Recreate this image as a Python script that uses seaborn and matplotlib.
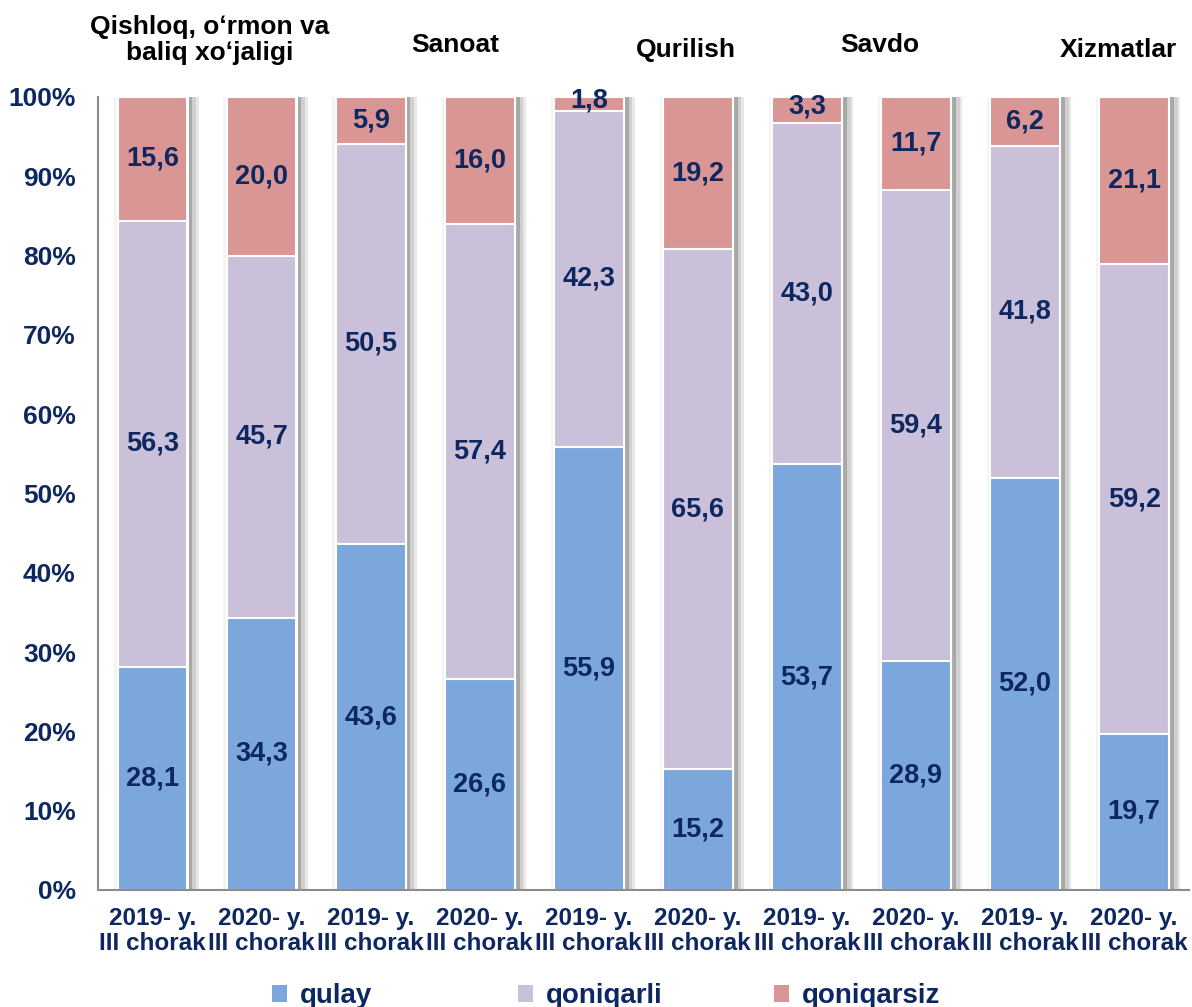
import matplotlib
matplotlib.use("Agg")
import matplotlib.pyplot as plt
import seaborn as sns
import pandas as pd
import numpy as np
from matplotlib.patches import Patch

# ---- data ----
x_labels = ["2019- y.\nIII chorak", "2020- y.\nIII chorak"] * 5
bar_ids = [f"b{i}" for i in range(10)]
groups = ["Qishloq, oʻrmon va\nbaliq xoʻjaligi", "Sanoat", "Qurilish", "Savdo", "Xizmatlar"]
qulay = [28.1, 34.3, 43.6, 26.6, 55.9, 15.2, 53.7, 28.9, 52.0, 19.7]
qoniqarli = [56.3, 45.7, 50.5, 57.4, 42.3, 65.6, 43.0, 59.4, 41.8, 59.2]
qoniqarsiz = [15.6, 20.0, 5.9, 16.0, 1.8, 19.2, 3.3, 11.7, 6.2, 21.1]
series_names = ["qulay", "qoniqarli", "qoniqarsiz"]
colors = ["#7BA7DD", "#CBC0DA", "#D99694"]
navy = "#0D2760"

sns.set_theme(style="white")
plt.rcParams['font.family'] = ['Liberation Sans', 'DejaVu Sans']

df = pd.DataFrame({"bar": bar_ids, "qulay": qulay, "qoniqarli": qoniqarli,
                   "qoniqarsiz": qoniqarsiz})
df["c1"] = df["qulay"]
df["c2"] = df["qulay"] + df["qoniqarli"]
df["c3"] = df["c2"] + df["qoniqarsiz"]

fig = plt.figure(figsize=(11.92, 10.07), dpi=100)
ax = fig.add_axes([0.0822, 0.1162, 0.9150, 0.7875])

width = 0.64
pos = np.arange(10)
# shadow strips to the right of each bar
for off, w, col in [(width/2 + 0.01, 0.035, "#A8A8A8"), (width/2 + 0.045, 0.035, "#D0D0D0"),
                    (width/2 + 0.08, 0.025, "#E8E8E8")]:
    ax.bar(pos + off + w/2, df["c3"], width=w, color=col, linewidth=0, zorder=1)
ax.bar(pos - width/2 - 0.015, df["c3"], width=0.03, color="#F4F4F4", linewidth=0, zorder=1)

for col, c in zip(["c3", "c2", "c1"], [colors[2], colors[1], colors[0]]):
    sns.barplot(data=df, x="bar", y=col, color=c, width=width, ax=ax,
                edgecolor="white", linewidth=1.5, zorder=2, saturation=1)

# data labels
for i in range(10):
    bottoms = [0, qulay[i], qulay[i] + qoniqarli[i]]
    vals = [qulay[i], qoniqarli[i], qoniqarsiz[i]]
    for b, v in zip(bottoms, vals):
        y = b + v / 2
        if v < 4:
            y = b + v / 2 + 0.4
        ax.text(i, y, f"{v:.1f}".replace(".", ","), ha="center", va="center",
                fontsize=19.5, fontweight="bold", color=navy, zorder=5)

ax.set_xlim(-0.5, 9.5)
ax.set_ylim(0, 100)
ax.set_yticks(range(0, 101, 10))
ax.set_yticklabels([f"{t}%" for t in range(0, 101, 10)], fontsize=19,
                   fontweight="bold", color=navy)
ax.set_xticks(pos)
ax.set_xticklabels(x_labels, fontsize=17.5, fontweight="bold", color=navy, linespacing=1.15)
ax.tick_params(axis="x", pad=12, length=0)
ax.tick_params(axis="y", pad=16, length=0)
ax.set_xlabel("")
ax.set_ylabel("")
for s in ["top", "right"]:
    ax.spines[s].set_visible(False)
for s in ["left", "bottom"]:
    ax.spines[s].set_color("#8C8C8C")
    ax.spines[s].set_linewidth(1.5)

# group titles
title_pos = [(210, 40), (455, 45), (686, 50), (880, 45), (1118, 50)]
for g, (px, py) in zip(groups, title_pos):
    fig.text(px / 1192, 1 - py / 1007, g, ha="center", va="center", fontsize=19,
             fontweight="bold", color="black", linespacing=1.15)

# legend entries placed individually
leg_x = [272, 518, 774]
for name, c, lx in zip(series_names, colors, leg_x):
    leg = fig.legend([Patch(facecolor=c, edgecolor="none")], [name], loc="center left",
                     bbox_to_anchor=(lx / 1192, 1 - 996 / 1007), frameon=False,
                     prop={"weight": "bold", "size": 20}, handlelength=0.55,
                     handleheight=0.55, handletextpad=0.45, borderaxespad=0,
                     borderpad=0, labelcolor=navy)

fig.savefig("out.png", dpi=100)
